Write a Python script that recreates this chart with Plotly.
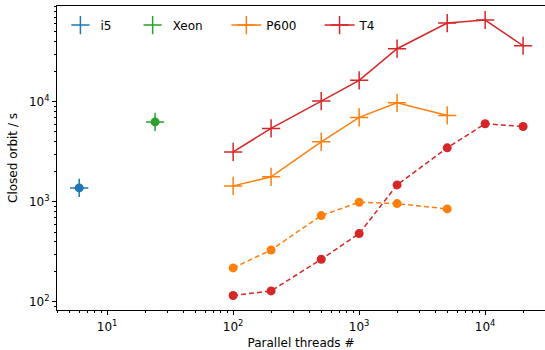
import plotly.graph_objects as go

# Data
i5_threads = [6]
i5_cross = [1380]
i5_circle = [1380]
xeon_threads = [24]
xeon_cross = [6300]
xeon_circle = [6300]

threads_p600 = [100, 200, 500, 1000, 2000, 5000]
p600_cross = [1445, 1780, 3980, 6980, 9770, 7310]
p600_circle = [219, 331, 730, 993, 961, 851]

threads_t4 = [100, 200, 500, 1000, 2000, 5000, 10000, 20000]
t4_cross = [3160, 5420, 10160, 16370, 33900, 61200, 65600, 36300]
t4_circle = [116, 129, 267, 482, 1479, 3470, 6030, 5660]

x_tickvals = [10, 100, 1000, 10000]
x_ticktext = ["10<sup>1</sup>", "10<sup>2</sup>", "10<sup>3</sup>", "10<sup>4</sup>"]
y_tickvals = [100, 1000, 10000]
y_ticktext = ["10<sup>2</sup>", "10<sup>3</sup>", "10<sup>4</sup>"]

BLUE = "#1f77b4"
GREEN = "#2ca02c"
ORANGE = "#ff7f0e"
RED = "#d62728"

CROSS = 13
DOT = 9

def cross_trace(x, y, name, color, line, legend):
    return go.Scatter(
        x=x, y=y, name=name, legend=legend,
        mode="lines+markers" if line else "markers",
        line=dict(color=color, width=1.5),
        marker=dict(symbol="cross-thin", size=CROSS, color=color,
                    line=dict(color=color, width=1.5)),
    )

def dot_trace(x, y, color, line):
    return go.Scatter(
        x=x, y=y, showlegend=False,
        mode="lines+markers" if line else "markers",
        line=dict(color=color, width=1.5, dash="5px,3px"),
        marker=dict(symbol="circle", size=DOT, color=color, line=dict(width=0)),
    )

fig = go.Figure()
fig.add_trace(cross_trace(i5_threads, i5_cross, "i5", BLUE, False, "legend"))
fig.add_trace(cross_trace(xeon_threads, xeon_cross, "Xeon", GREEN, False, "legend2"))
fig.add_trace(cross_trace(threads_p600, p600_cross, "P600", ORANGE, True, "legend3"))
fig.add_trace(cross_trace(threads_t4, t4_cross, "T4", RED, True, "legend4"))
fig.add_trace(dot_trace(i5_threads, i5_circle, BLUE, False))
fig.add_trace(dot_trace(xeon_threads, xeon_circle, GREEN, False))
fig.add_trace(dot_trace(threads_p600, p600_circle, ORANGE, True))
fig.add_trace(dot_trace(threads_t4, t4_circle, RED, True))

axis_common = dict(
    type="log",
    showgrid=False,
    zeroline=False,
    showline=True,
    linecolor="black",
    linewidth=1,
    mirror=True,
    ticks="outside",
    ticklen=4,
    tickwidth=1,
    tickcolor="black",
    automargin=False,
    tickfont=dict(family="DejaVu Sans", size=12, color="black"),
    minor=dict(ticks="outside", ticklen=2, tickwidth=0.8, tickcolor="black",
               dtick="D1", showgrid=False),
)

def leg(x):
    return dict(orientation="h", x=x, y=0.985, xanchor="left", yanchor="top",
                bgcolor="rgba(0,0,0,0)",
                font=dict(family="DejaVu Sans", size=12, color="black"))

fig.update_layout(
    width=545, height=350,
    margin=dict(l=57, r=0, t=6, b=40),
    paper_bgcolor="white",
    plot_bgcolor="white",
    font=dict(family="DejaVu Sans", size=12, color="black"),
    xaxis=dict(range=[0.602, 4.475], tickvals=x_tickvals, ticktext=x_ticktext,
               ticklabelstandoff=2,
               title=dict(text="Parallel threads #", standoff=8,
                          font=dict(family="DejaVu Sans", size=12)),
               **axis_common),
    yaxis=dict(range=[1.92, 4.957], tickvals=y_tickvals, ticktext=y_ticktext,
               title=dict(text="Closed orbit / s", standoff=8,
                          font=dict(family="DejaVu Sans", size=12)),
               **axis_common),
    legend=leg(0.007),
    legend2=leg(0.155),
    legend3=leg(0.347),
    legend4=leg(0.538),
)

fig.write_html("out.html", config={"displayModeBar": False},
               post_script="document.body.style.margin='0';")
